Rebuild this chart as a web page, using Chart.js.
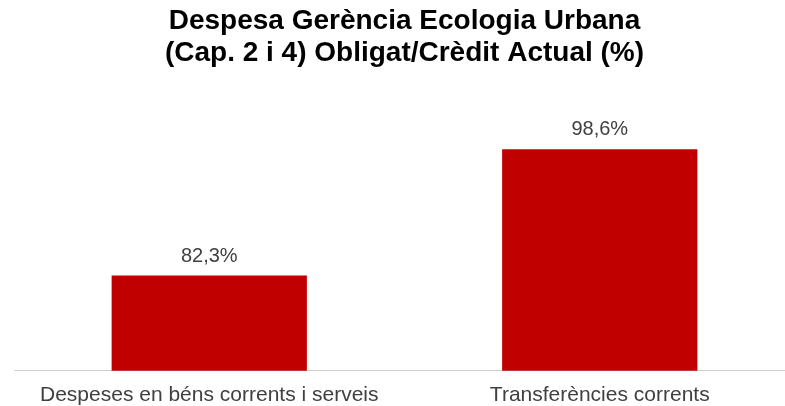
<!DOCTYPE html>
<html>
<head>
<meta charset="utf-8">
<script src="https://cdn.jsdelivr.net/npm/chart.js@4"></script>
<style>
  body { margin: 0; overflow: hidden; background: #fff; }
  #wrap { width: 795px; height: 421px; }
</style>
</head>
<body>
<div id="wrap"><canvas id="despesaChart"></canvas></div>
<script>
// --- data ---
const categories = ["Despeses en béns corrents i serveis", "Transferències corrents"];
const obligatPct = [82.3, 98.6];
const titleLines = ["Despesa Gerència Ecologia Urbana", "(Cap. 2 i 4) Obligat/Crèdit Actual (%)"];

// draws "82,3%" style labels above each bar
const valueLabels = {
  id: "valueLabels",
  afterDatasetsDraw(chart) {
    const ctx = chart.ctx;
    const meta = chart.getDatasetMeta(0);
    ctx.save();
    ctx.font = "20px 'Liberation Sans', Arial, sans-serif";
    ctx.fillStyle = "#404040";
    ctx.textAlign = "center";
    ctx.textBaseline = "alphabetic";
    meta.data.forEach(function (bar, i) {
      const txt = obligatPct[i].toFixed(1).replace(".", ",") + "%";
      ctx.fillText(txt, bar.x, bar.y - 14);
    });
    ctx.restore();
  },
};

new Chart(document.getElementById("despesaChart"), {
  type: "bar",
  data: {
    labels: categories,
    datasets: [
      {
        label: "Obligat/Crèdit",
        data: obligatPct,
        backgroundColor: "#C00000",
        borderWidth: 0,
        barPercentage: 0.5,
        categoryPercentage: 1,
      },
    ],
  },
  options: {
    responsive: true,
    maintainAspectRatio: false,
    animation: false,
    layout: { padding: { left: 14, right: 0, top: 0, bottom: 1 } },
    plugins: {
      legend: { display: false },
      tooltip: { enabled: false },
      title: {
        display: true,
        text: titleLines,
        color: "#000",
        font: { family: "'Liberation Sans', Arial, sans-serif", size: 28, weight: "bold", lineHeight: 1.15 },
        padding: { top: 5, bottom: 69 },
      },
    },
    scales: {
      x: {
        grid: { display: false, drawTicks: false },
        border: { display: true, color: "#d0d0d0", width: 1 },
        ticks: {
          color: "#404040",
          padding: 12,
          maxRotation: 0,
          font: { family: "'Liberation Sans', Arial, sans-serif", size: 21 },
        },
      },
      y: {
        display: false,
        min: 70,
        max: 100,
      },
    },
  },
  plugins: [valueLabels],
});
</script>
</body>
</html>
